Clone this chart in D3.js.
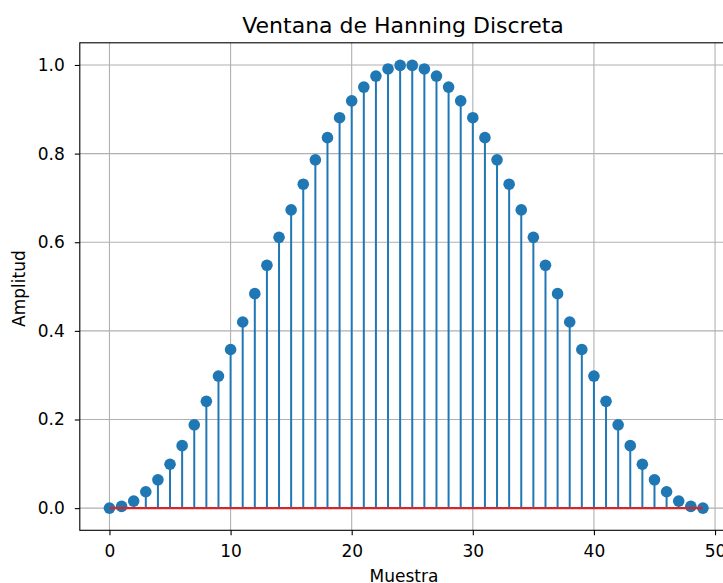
<!DOCTYPE html>
<html><head><meta charset="utf-8">
<script src="https://cdn.jsdelivr.net/npm/d3@7"></script>
<style>html,body{margin:0;padding:0;background:#fff;overflow:hidden}svg{display:block;font-family:"DejaVu Sans",sans-serif}</style>
</head><body>
<script>
const samples = d3.range(50);
const amplitudes = [0.000,0.004,0.016,0.037,0.064,0.099,0.141,0.188,0.241,0.298,0.358,0.420,0.484,0.548,0.611,0.673,0.731,0.786,0.836,0.881,0.919,0.950,0.975,0.991,0.999,
0.999,0.991,0.975,0.950,0.919,0.881,0.836,0.786,0.731,0.673,0.611,0.548,0.484,0.420,0.358,0.298,0.241,0.188,0.141,0.099,0.064,0.037,0.016,0.004,0.000];
const xTicks = [0,10,20,30,40,50];
const yTicks = [0.0,0.2,0.4,0.6,0.8,1.0];
const titleText = "Ventana de Hanning Discreta";
const xLabel = "Muestra", yLabel = "Amplitud";

const W=723,H=583;
const L=79.8,R=732.6,T=42.8,B=530.3;
const svg=d3.select("body").append("svg").attr("width",W).attr("height",H);
const x=d3.scaleLinear().domain([-2.45,51.45]).range([L,R]);
const y=d3.scaleLinear().domain([-0.05,1.05]).range([B,T]);

// grid
const g=svg.append("g");
g.selectAll(".gx").data(xTicks).join("line").attr("x1",d=>x(d)).attr("x2",d=>x(d)).attr("y1",T).attr("y2",B).attr("stroke","#b0b0b0").attr("stroke-width",1.1);
g.selectAll(".gy").data(yTicks).join("line").attr("x1",L).attr("x2",R).attr("y1",d=>y(d)).attr("y2",d=>y(d)).attr("stroke","#b0b0b0").attr("stroke-width",1.1);

const data=samples.map((s,i)=>({s,v:amplitudes[i]}));
// markers
svg.append("g").selectAll("circle").data(data).join("circle").attr("cx",d=>x(d.s)).attr("cy",d=>y(d.v)).attr("r",5.8).attr("fill","#1f77b4");
// stems
svg.append("g").selectAll("line").data(data).join("line").attr("x1",d=>x(d.s)).attr("x2",d=>x(d.s)).attr("y1",y(0)).attr("y2",d=>y(d.v)).attr("stroke","#1f77b4").attr("stroke-width",2);
// baseline
svg.append("line").attr("x1",x(d3.min(samples))).attr("x2",x(d3.max(samples))).attr("y1",y(0)).attr("y2",y(0)).attr("stroke","#d62728").attr("stroke-width",2.1);

// axes
const xa=svg.append("g").attr("transform",`translate(0,${B})`).call(d3.axisBottom(x).tickValues(xTicks).tickFormat(d3.format("d")).tickSize(5).tickPadding(9.8));
const ya=svg.append("g").attr("transform",`translate(${L},0)`).call(d3.axisLeft(y).tickValues(yTicks).tickFormat(d3.format(".1f")).tickSize(5).tickPadding(10));
[xa,ya].forEach(a=>{a.select(".domain").remove();a.selectAll("text").attr("font-size","17px").attr("font-family","DejaVu Sans").attr("fill","#000");a.selectAll("line").attr("stroke","#000").attr("stroke-width",1.1);});
// spines
svg.append("rect").attr("x",L).attr("y",T).attr("width",R-L).attr("height",B-T).attr("fill","none").attr("stroke","#000").attr("stroke-width",1.1);

svg.append("text").attr("x",403).attr("y",33).attr("text-anchor","middle").attr("font-size","22px").text(titleText);
svg.append("text").attr("x",404).attr("y",581.7).attr("text-anchor","middle").attr("font-size","17px").text(xLabel);
svg.append("text").attr("transform",`translate(24.5,${(T+B)/2+2}) rotate(-90)`).attr("text-anchor","middle").attr("font-size","17px").text(yLabel);
</script>
</body></html>
